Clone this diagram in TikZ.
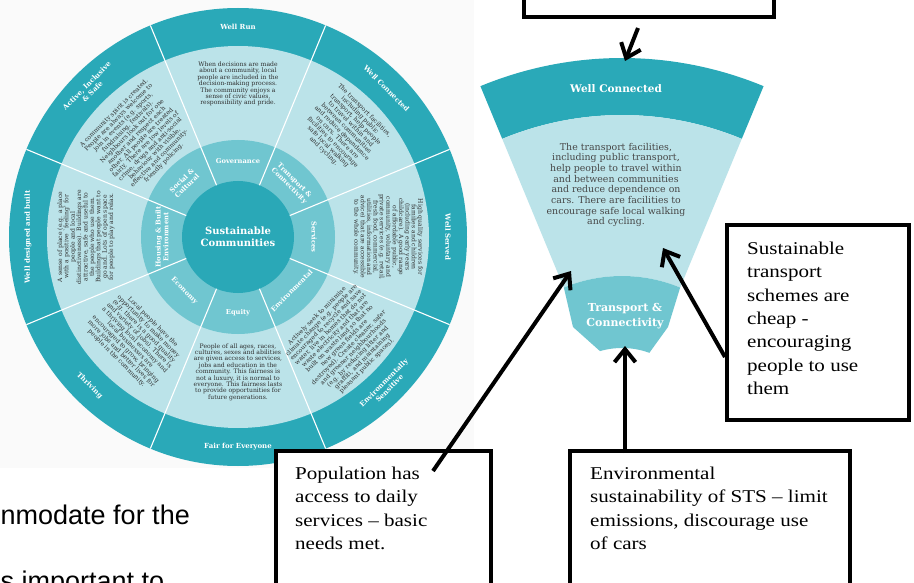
\documentclass[tikz,border=0pt]{standalone}
\usepackage{fontspec}
\usetikzlibrary{arrows.meta}
\newfontfamily\wheelfont{DejaVu Serif}
\newfontfamily\boxfont[FakeStretch=1.17]{Liberation Serif}
\newfontfamily\slidefont{Liberation Sans}

\definecolor{ringteal}{HTML}{2AA9B8}
\definecolor{paleteal}{HTML}{BBE3E9}
\definecolor{midteal}{HTML}{70C6D0}
\definecolor{coreteal}{HTML}{2AA8B7}
\definecolor{bodygrey}{HTML}{2E2E2E}
\definecolor{wedgegrey}{HTML}{474747}

\tikzset{
  bandlabel/.style={text=white, font={\wheelfont\bfseries\fontsize{7}{8}\selectfont}, align=center, inner sep=0},
  ringlabel/.style={text=white, font={\wheelfont\bfseries\fontsize{6.7}{7.6}\selectfont}, align=center, inner sep=0},
  wheeltext/.style={text=bodygrey, font={\wheelfont\fontsize{6.1}{6.4}\selectfont}, align=center, inner sep=0},
  divider/.style={white, line width=1.1pt},
  boxframe/.style={draw=black, line width=4pt, fill=white, inner sep=0},
  boxtext/.style={font={\boxfont\fontsize{18}{23.3}\selectfont}, align=left, inner sep=0, anchor=north west},
  pointer/.style={line width=4pt, -{Straight Barb[length=13pt, width=21pt]}},
}

\begin{document}
\begin{tikzpicture}[x=1pt, y=-1pt]
\clip (0,0) rectangle (914,583);
\fill[white] (0,0) rectangle (914,583);
\fill[black!2] (0,0) rectangle (474,468);

% ---------- the sustainable communities wheel ----------
\begin{scope}[shift={(238,237)}, yscale=-1]
  \fill[ringteal] (0,0) circle (229);
  \fill[paleteal] (0,0) circle (191);
  \fill[midteal] (0,0) circle (97);
  \fill[coreteal] (0,0) circle (56);
  \foreach \a in {22.5,67.5,...,337.5}
    \draw[divider] (\a:56) -- (\a:229);

  % outer band
  \node[bandlabel] (run) at (90:210) {Well Run};
  \node[bandlabel, rotate=-45] (connected) at (45:210) {Well Connected};
  \node[bandlabel, rotate=-90] (served) at (0:210) {Well Served};
  \node[bandlabel, rotate=45] (sensitive) at (-45:210) {Environmentally\\Sensitive};
  \node[bandlabel] (fair) at (-90:210) {Fair for Everyone};
  \node[bandlabel, rotate=-45] (thriving) at (-135:210) {Thriving};
  \node[bandlabel, rotate=90] (designed) at (180:210) {Well designed and built};
  \node[bandlabel, rotate=45] (active) at (135:210) {Active, Inclusive\\\& Safe};

  % inner ring
  \node[ringlabel] (gov) at (90:76) {Governance};
  \node[ringlabel, rotate=-45] (trans) at (45:76) {Transport \&\\Connectivity};
  \node[ringlabel, rotate=-90] (serv) at (0:76) {Services};
  \node[ringlabel, rotate=45] (envi) at (-45:76) {Environmental};
  \node[ringlabel] (equ) at (-90:76) {Equity};
  \node[ringlabel, rotate=-45] (eco) at (-135:76) {Economy};
  \node[ringlabel, rotate=90] (hous) at (180:76) {Housing \& Built\\Environment};
  \node[ringlabel, rotate=45] (soc) at (135:76) {Social \&\\Cultural};

  \node[text=white, font={\wheelfont\bfseries\fontsize{10}{12}\selectfont}, align=center, inner sep=0] (core) at (0,0) {Sustainable\\Communities};

  % descriptions
  \node[wheeltext] (runtext) at (90:153) {When decisions are made\\about a community, local\\people are included in the\\decision-making process.\\The community enjoys a\\sense of civic values,\\responsibility and pride.};
  \node[wheeltext, rotate=-45] (context) at (45:150) {The transport facilities,\\including public\\transport, help people\\to travel within and\\between communities\\and reduce dependence\\on cars. There are\\facilities to encourage\\safe local walking\\and cycling.};
  \node[wheeltext, rotate=-90] (servtext) at (0:150) {High quality services for\\families and children\\(including early years\\childcare). A good range\\of affordable public,\\community, voluntary and\\private services (e.g. retail,\\fresh food, commercial,\\utilities, information and\\advice) that are accessible\\to the whole community.};
  \node[wheeltext, rotate=45] (envtext2) at (-45:147) {Actively seek to minimise\\climate change (e.g. people are\\encouraged to recycle and save\\water, live in homes that do not\\waste electricity and that are\\built on waste land so that no\\new green fields are\\destroyed). Create cleaner, safer\\and greener neighbourhoods\\(e.g. by reducing litter and\\graffiti, and maintaining\\pleasant public spaces).};
  \node[wheeltext] (fairtext) at (-90:135) {People of all ages, races,\\cultures, sexes and abilities\\are given access to services,\\jobs and education in the\\community. This fairness is\\not a luxury, it is normal to\\everyone. This fairness lasts\\to provide opportunities for\\future generations.};
  \node[wheeltext, rotate=-45] (thrivetext) at (-135:146) {Local people have the\\opportunity to make money\\(e.g. there is a good quality\\and variety of jobs). There is\\a thriving local economy and\\local businesses are\\encouraged to grow, bringing\\more jobs and better lives for\\people in the community.};
  \node[wheeltext, rotate=90] (designtext) at (180:152) {A sense of place (e.g. a place\\with a positive `feeling' for\\people and local\\distinctiveness). Buildings are\\attractive, safe and useful to\\the people who use them.\\Buildings that people want to\\go and. Lots of open space\\for people to play and relax.};
  \node[wheeltext, rotate=45] (activetext) at (135:140) {A community spirit is created.\\People are always welcome to\\join in events (e.g. sports,\\fundraising, festivals).\\Neighbours look out for one\\another and respect each\\other. All people are treated\\fairly. There are low levels of\\crime, drugs and anti-social\\behaviour with visible,\\effective and community-\\friendly policing.};
\end{scope}

% ---------- enlarged "Well Connected" segment ----------
\begin{scope}[shift={(622,428)}, yscale=-1]
  \fill[ringteal] (67.5:370) arc[start angle=67.5, end angle=112.5, radius=370]
    -- (112.5:313) arc[start angle=112.5, end angle=67.5, radius=313] -- cycle;
  \fill[paleteal] (67.5:313) arc[start angle=67.5, end angle=112.5, radius=313]
    -- (112.5:152) arc[start angle=112.5, end angle=67.5, radius=152] -- cycle;
  \fill[midteal] (67.5:152) arc[start angle=67.5, end angle=112.5, radius=152]
    -- (-49,101) -- (106:80) arc[start angle=106, end angle=70, radius=80]
    -- (46,101) -- cycle;
\end{scope}

\node[text=white, font={\wheelfont\bfseries\fontsize{10.5}{12}\selectfont}, inner sep=0] (wcband) at (616,89) {Well Connected};
\node[text=wedgegrey, font={\wheelfont\fontsize{9.4}{10.7}\selectfont}, align=center, inner sep=0] (wctext) at (616,185) {The transport facilities,\\including public transport,\\help people to travel within\\and between communities\\and reduce dependence on\\cars. There are facilities to\\encourage safe local walking\\and cycling.};
\node[text=white, font={\wheelfont\bfseries\fontsize{11}{15}\selectfont}, align=center, inner sep=0] (tcband) at (625,316) {Transport \&\\Connectivity};

% ---------- slide text ----------
\node[font={\slidefont\fontsize{27}{32}\selectfont}, anchor=base west, inner sep=0] (slideA) at (0.5,524) {nmodate for the};
\node[font={\slidefont\fontsize{27}{32}\selectfont}, anchor=base west, inner sep=0] (slideB) at (0.5,590) {s important to};

% ---------- annotation boxes ----------
\node[boxframe, minimum width=250, minimum height=45, anchor=south west] (topbox) at (522,19) {};
\node[boxframe, minimum width=182, minimum height=195, anchor=north west] (cheapbox) at (725,223) {};
\node[boxtext] (cheaptext) at (747,242) {Sustainable\\transport\\schemes are\\cheap -\\encouraging\\people to use\\them};
\node[boxframe, minimum width=215, minimum height=160, anchor=north west] (popbox) at (274,449) {};
\node[boxtext] (poptext) at (295,467) {Population has\\access to daily\\services – basic\\needs met.};
\node[boxframe, minimum width=280, minimum height=160, anchor=north west] (envbox) at (568,449) {};
\node[boxtext] (envtext) at (590,467) {Environmental\\sustainability of STS – limit\\emissions, discourage use\\of cars};

% ---------- arrows ----------
\coordinate (topstart) at (638,28);
\coordinate (wctop) at (625,61);
\coordinate (popstart) at (433,471);
\coordinate (lightleft) at (571,271);
\coordinate (envstart) at (625,453);
\coordinate (tcbottom) at (625,346);
\coordinate (cheapstart) at (725,357);
\coordinate (lightright) at (663,248);
\draw[pointer] (topstart) -- (wctop);
\draw[pointer] (popstart) -- (lightleft);
\draw[pointer] (envstart) -- (tcbottom);
\draw[pointer] (cheapstart) -- (lightright);
\end{tikzpicture}
\end{document}
